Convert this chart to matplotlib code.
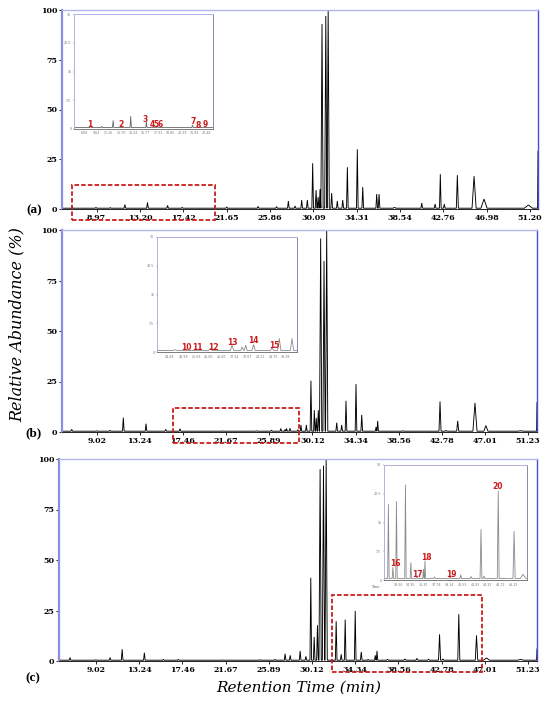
import numpy as np
import matplotlib
matplotlib.use("Agg")
import matplotlib.pyplot as plt
from matplotlib.patches import Rectangle

# ---------------- data ----------------
ticks_a = [8.97, 13.20, 17.42, 21.65, 25.86, 30.09, 34.31, 38.54, 42.76, 46.98, 51.20]
ticks_bc = [9.02, 13.24, 17.46, 21.67, 25.89, 30.12, 34.34, 38.56, 42.78, 47.01, 51.23]
y_ticks = [0, 25, 50, 75, 100]
inset_y_ticks = [0, 7.5, 15, 22.5, 30]
inset_y_labels = ["0", "7.5", "15", "22.5", "30"]

# sample (a) peaks: retention time (min), relative abundance (%), half width (min)
rt_a = [6.60, 8.90, 10.30, 11.72, 13.92, 15.88, 17.30, 21.64, 24.70, 26.50, 27.65, 28.30, 28.95,
        29.50, 30.02, 30.35, 30.55, 30.74, 30.93, 31.30, 31.53, 31.87, 32.42, 32.95, 33.40, 34.37,
        34.90, 36.26, 36.49, 38.00, 40.65, 41.95, 42.46, 42.85, 44.12, 45.75, 46.72, 51.05]
h_a = [0.8, 0.8, 0.7, 2.2, 3.3, 1.8, 0.8, 1.0, 1.3, 1.2, 4.0, 1.5, 4.5,
       4.5, 23.0, 9.5, 6.0, 10.0, 93.0, 97.0, 100.0, 8.0, 4.0, 4.5, 21.0, 30.0,
       11.0, 7.5, 7.5, 0.8, 3.0, 2.5, 17.5, 2.5, 17.0, 16.5, 5.0, 2.0]
w_a = [0.08, 0.08, 0.08, 0.08, 0.08, 0.08, 0.08, 0.08, 0.08, 0.08, 0.08, 0.08, 0.08,
       0.08, 0.08, 0.08, 0.08, 0.08, 0.11, 0.11, 0.11, 0.08, 0.08, 0.08, 0.08, 0.08,
       0.08, 0.08, 0.08, 0.15, 0.08, 0.08, 0.08, 0.08, 0.10, 0.20, 0.30, 0.40]
end_a = 29.0

rt_b = [6.57, 9.00, 10.32, 11.62, 13.84, 15.77, 17.17, 21.40, 24.65, 26.12, 27.03, 27.45, 27.60,
        27.93, 28.70, 29.00, 29.53, 29.98, 30.31, 30.50, 30.70, 30.93, 31.26, 31.52, 32.50, 32.99,
        33.41, 34.39, 34.95, 36.35, 36.51, 39.00, 42.61, 43.20, 44.34, 46.03, 47.10, 50.50]
h_b = [1.3, 0.6, 0.8, 7.1, 4.1, 1.3, 1.6, 0.5, 0.6, 0.9, 1.75, 1.3, 1.75,
       1.9, 1.1, 3.5, 3.5, 25.4, 10.8, 7.0, 10.8, 95.8, 84.7, 100.0, 4.6, 3.5,
       15.4, 23.7, 8.5, 2.5, 5.5, 0.6, 15.1, 0.8, 5.5, 14.4, 3.2, 0.6]
w_b = [0.08, 0.08, 0.08, 0.08, 0.08, 0.08, 0.08, 0.08, 0.08, 0.08, 0.07, 0.06, 0.06,
       0.07, 0.07, 0.07, 0.07, 0.08, 0.07, 0.07, 0.08, 0.11, 0.11, 0.11, 0.08, 0.08,
       0.08, 0.08, 0.08, 0.07, 0.07, 0.10, 0.10, 0.10, 0.10, 0.20, 0.20, 0.30]
end_b = 14.6

rt_c = [6.48, 9.00, 10.39, 11.57, 13.74, 15.60, 17.06, 21.40, 25.00, 26.50, 27.49, 27.99, 28.96,
        29.52, 30.00, 30.33, 30.65, 30.91, 31.24, 31.50, 32.48, 32.97, 33.36, 34.34, 34.93, 35.60,
        36.30, 36.47, 37.50, 39.20, 40.37, 41.50, 42.58, 42.90, 44.46, 46.19, 47.17, 50.50]
h_c = [1.7, 0.6, 1.7, 5.8, 4.1, 0.8, 0.8, 0.5, 0.6, 0.8, 3.6, 2.8, 5.0,
       2.3, 41.2, 11.9, 17.7, 95.0, 96.7, 100.0, 19.7, 3.3, 20.5, 24.8, 4.5, 0.8,
       2.8, 5.0, 0.8, 1.0, 1.3, 0.9, 13.2, 1.0, 23.2, 12.7, 1.5, 0.8]
w_c = [0.08, 0.08, 0.08, 0.08, 0.08, 0.08, 0.08, 0.08, 0.08, 0.08, 0.08, 0.08, 0.08,
       0.08, 0.08, 0.08, 0.08, 0.11, 0.11, 0.11, 0.08, 0.08, 0.08, 0.08, 0.08, 0.08,
       0.07, 0.07, 0.10, 0.10, 0.10, 0.10, 0.10, 0.10, 0.10, 0.12, 0.30, 0.30]
end_c = 6.0

# inset tick labels
inset_ticks_a = [8.08, 9.62, 11.16, 12.70, 14.24, 15.77, 17.31, 18.85, 20.39, 21.93, 23.46]
inset_ticks_b = [24.44, 24.99, 25.53, 26.06, 26.60, 27.14, 27.67, 28.21, 28.75, 29.28]
inset_ticks_c = [33.56, 34.95, 36.35, 37.74, 39.14, 40.53, 41.93, 43.32, 44.72, 46.12]

# compound numbers in insets
num_a = ["1", "2", "3", "4", "5", "6", "7", "8", "9"]
num_a_x = [8.83, 12.70, 15.70, 16.58, 17.08, 17.58, 21.70, 22.33, 23.20]
num_a_y = [1.2, 1.1, 2.6, 1.1, 1.1, 1.1, 1.9, 0.8, 1.2]
num_b = ["10", "11", "12", "13", "14", "15"]
num_b_x = [25.13, 25.58, 26.25, 27.03, 27.93, 28.81]
num_b_y = [1.1, 1.1, 1.1, 2.6, 3.0, 1.7]
num_c = ["16", "17", "18", "19", "20"]
num_c_x = [33.20, 35.63, 36.58, 39.38, 44.36]
num_c_y = [4.4, 1.4, 5.8, 1.5, 24.5]

BASE = 0.4


def trace(rt, h, w, x0, x1, end_h):
    xs, ys = [x0], [BASE]
    for r, hh, ww in sorted(zip(rt, h, w)):
        xs += [r - ww, r, r + ww]
        ys += [BASE, hh, BASE]
    xs += [x1 - 0.04, x1]
    ys += [BASE, end_h]
    return xs, ys


W, H = 550, 704
fig = plt.figure(figsize=(W / 100, H / 100), dpi=100)


def fx(px):
    return px / W


def fy(py):
    return 1 - py / H


tick_font = dict(family="DejaVu Serif", weight="bold", size=5.7)
RED = "#cc1b1b"


def main_axes(rect, rt, h, w, xlim, xt, end_h, box):
    ax = fig.add_axes(rect)
    xs, ys = trace(rt, h, w, xlim[0], xlim[1], end_h)
    ax.plot(xs, ys, color="black", lw=0.65, solid_joinstyle="miter", clip_on=False)
    ax.set_xlim(*xlim)
    ax.set_ylim(0, 100)
    ax.set_xticks(xt)
    ax.set_xticklabels([f"{t:.2f}" for t in xt], fontdict=tick_font)
    ax.set_yticks(y_ticks)
    ax.set_yticklabels([str(t) for t in y_ticks], fontdict=tick_font)
    ax.tick_params(axis="x", length=2, width=0.6, pad=1.5, colors="black")
    ax.tick_params(axis="y", length=2, width=0.6, pad=1.5, colors="black")
    ax.spines["left"].set_color("#8c8ce0")
    ax.spines["left"].set_linewidth(1.6)
    ax.spines["top"].set_color("#b4b4ee")
    ax.spines["top"].set_linewidth(1.0)
    ax.spines["right"].set_color("#4a4ad8")
    ax.spines["right"].set_linewidth(1.0)
    ax.spines["bottom"].set_color("#222222")
    ax.spines["bottom"].set_linewidth(0.7)
    x0, y0, x1, y1 = box
    ax.add_patch(Rectangle((x0, y0), x1 - x0, y1 - y0, fill=False, ec=RED, lw=1.3,
                           ls=(0, (2.5, 1.2)), clip_on=False, zorder=5))
    return ax


def inset_axes(rect, rt, h, w, xlim, xt, nums, nx, ny, col):
    ax = fig.add_axes(rect)
    xs, ys = trace(rt, h, w, xlim[0] - 1, xlim[1] + 1, BASE)
    ax.plot(xs, ys, color=col, lw=0.6)
    ax.set_xlim(*xlim)
    ax.set_ylim(0, 30)
    ax.set_xticks(xt)
    ax.set_xticklabels([f"{t:.2f}" for t in xt], fontsize=2.3, color="#555555")
    ax.set_yticks(inset_y_ticks)
    ax.set_yticklabels(inset_y_labels, fontsize=2.3, color="#555555")
    ax.tick_params(length=1, width=0.3, pad=0.8, colors="#777777")
    for s in ["top", "left"]:
        ax.spines[s].set_color("#b0b0dd")
        ax.spines[s].set_linewidth(0.7)
    ax.spines["right"].set_color("#8888aa")
    ax.spines["right"].set_linewidth(0.7)
    ax.spines["bottom"].set_color("#666666")
    ax.spines["bottom"].set_linewidth(0.6)
    for t, x, y in zip(nums, nx, ny):
        ax.text(x, y, t, color=RED, fontsize=5.5, fontweight="bold", family="DejaVu Sans",
                ha="center", va="center")
    return ax


ax_a = main_axes([fx(62), fy(209), fx(538) - fx(62), fy(10) - fy(209)],
                 rt_a, h_a, w_a, (5.59, 51.98), ticks_a, end_a, (6.56, -5.5, 20.5, 12.0))
ax_b = main_axes([fx(62), fy(432), fx(537) - fx(62), fy(230) - fy(432)],
                 rt_b, h_b, w_b, (5.62, 52.10), ticks_bc, end_b, (16.48, -5.4, 28.81, 11.9))
ax_c = main_axes([fx(59), fy(661), fx(537) - fx(59), fy(459) - fy(661)],
                 rt_c, h_c, w_c, (5.40, 52.10), ticks_bc, end_c, (32.09, -5.4, 46.75, 32.7))

in_a = inset_axes([fx(74), fy(129), fx(213) - fx(74), fy(14) - fy(129)],
                  rt_a, h_a, w_a, (6.83, 24.21), inset_ticks_a, num_a, num_a_x, num_a_y, "#666666")
in_b = inset_axes([fx(157), fy(352), fx(297) - fx(157), fy(237) - fy(352)],
                  rt_b, h_b, w_b, (23.90, 29.74), inset_ticks_b, num_b, num_b_x, num_b_y, "#8a8a8a")
in_c = inset_axes([fx(384), fy(580), fx(527) - fx(384), fy(465) - fy(580)],
                  rt_c, h_c, w_c, (32.00, 47.60), inset_ticks_c, num_c, num_c_x, num_c_y, "#8a8a8a")
in_c.text(-0.02, -0.045, "Time:", transform=in_c.transAxes, fontsize=2.3, color="#555555",
          ha="right", va="top")

# panel letters and axis titles
for lab, px, py in [("(a)", 34, 210), ("(b)", 33, 433), ("(c)", 33, 678)]:
    fig.text(fx(px), fy(py), lab, family="Liberation Serif", weight="bold", fontsize=9.5,
             ha="center", va="center")

fig.text(fx(17), fy(325), "Relative Abundance (%)", family="DejaVu Serif", style="italic",
         fontsize=11.5, rotation=90, ha="center", va="center")
fig.text(fx(299), fy(688), "Retention Time (min)", family="DejaVu Serif", style="italic",
         fontsize=11, ha="center", va="center")

fig.savefig("out.png", dpi=100, facecolor="white")
